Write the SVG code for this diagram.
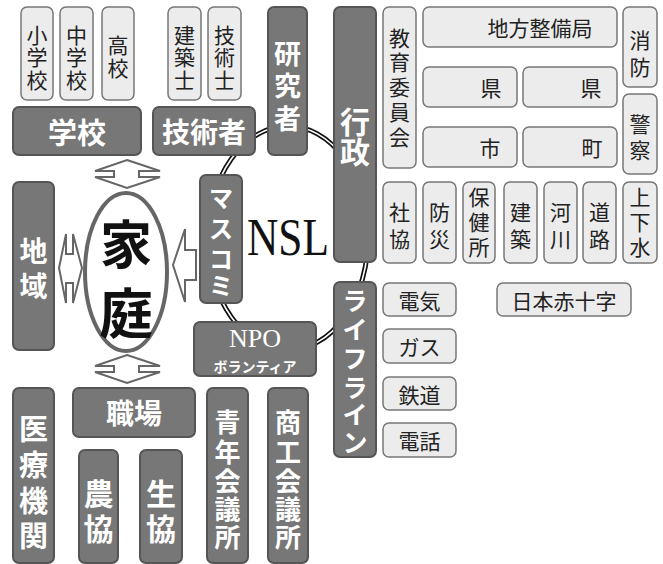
<svg xmlns="http://www.w3.org/2000/svg" width="663" height="564" viewBox="0 0 663 564">
<style>
.d{fill:#777;stroke:#555;stroke-width:2}
.l{fill:#ececec;stroke:#777;stroke-width:1.5}
.tw{fill:#fff;font-family:"Noto Sans CJK JP","Noto Sans",sans-serif;font-weight:bold;text-anchor:middle;dominant-baseline:central}
.tb{fill:#222;font-family:"Noto Sans CJK JP","Noto Sans",sans-serif;text-anchor:middle;dominant-baseline:central;font-size:21px}
.ar{fill:#fff;stroke:#666;stroke-width:2;stroke-linejoin:miter}
</style>
<rect width="663" height="564" fill="#fff"/>
<g id="connectors">
<ellipse cx="288" cy="238" rx="80" ry="112" fill="none" stroke="#111" stroke-width="5"/>
<ellipse cx="288" cy="238" rx="80" ry="112" fill="none" stroke="#fff" stroke-width="1.6"/>
<path class="ar" d="M127,160 L160,171 L139,171 L139,177 L160,177 L127,188 L95,177 L114,177 L114,171 L95,171 Z"/>
<path class="ar" d="M127,355 L160,366 L139,366 L139,372 L160,372 L127,383 L95,372 L114,372 L114,366 L95,366 Z"/>
<path class="ar" d="M59,268 L66,234 L66,254 L73,254 L73,234 L82,268 L73,303 L73,283 L66,283 L66,303 Z"/>
<path class="ar" d="M173,265 L185,229 L185,250 L196,250 L196,280 L185,280 L185,302 Z"/>
</g>
<g id="shogakko"><rect class="l" x="21" y="7" width="32" height="93" rx="6"/><text class="tb" x="37" y="34">小</text><text class="tb" x="37" y="56">学</text><text class="tb" x="37" y="79">校</text></g>
<g id="chugakko"><rect class="l" x="60" y="7" width="33" height="93" rx="6"/><text class="tb" x="76.5" y="34">中</text><text class="tb" x="76.5" y="56">学</text><text class="tb" x="76.5" y="79">校</text></g>
<g id="koko"><rect class="l" x="102" y="7" width="32" height="93" rx="6"/><text class="tb" x="118" y="44">高</text><text class="tb" x="118" y="67">校</text></g>
<g id="kenchikushi"><rect class="l" x="168" y="7" width="33" height="93" rx="6"/><text class="tb" x="184.5" y="34">建</text><text class="tb" x="184.5" y="56">築</text><text class="tb" x="184.5" y="79">士</text></g>
<g id="gijutsushi"><rect class="l" x="208" y="7" width="33" height="93" rx="6"/><text class="tb" x="224.5" y="34">技</text><text class="tb" x="224.5" y="56">術</text><text class="tb" x="224.5" y="79">士</text></g>
<g id="kenkyusha"><rect class="d" x="268" y="7" width="39" height="148" rx="6"/><text class="tw" x="287.5" y="52" font-size="27">研</text><text class="tw" x="287.5" y="84" font-size="27">究</text><text class="tw" x="287.5" y="117" font-size="27">者</text></g>
<g id="gakko"><rect class="d" x="13" y="107" width="128" height="48" rx="6"/><text class="tw" x="77" y="131" font-size="29">学校</text></g>
<g id="gijutsusha"><rect class="d" x="153" y="107" width="102" height="48" rx="6"/><text class="tw" x="204" y="131" font-size="28">技術者</text></g>
<g id="gyosei"><rect class="d" x="334" y="7" width="42" height="255" rx="6"/><text class="tw" x="355" y="120" font-size="30">行</text><text class="tw" x="355" y="150" font-size="30">政</text></g>
<g id="kyoiku"><rect class="l" x="383" y="7" width="33" height="161" rx="6"/><text class="tb" x="399.5" y="37">教</text><text class="tb" x="399.5" y="61">育</text><text class="tb" x="399.5" y="86">委</text><text class="tb" x="399.5" y="111">員</text><text class="tb" x="399.5" y="136">会</text></g>
<g id="chihoseibi"><rect class="l" x="423" y="7" width="194" height="40" rx="6"/><text class="tb" x="540" y="27" font-size="22">地方整備局</text></g>
<g id="ken1"><rect class="l" x="423" y="67" width="94" height="40" rx="6"/><text class="tb" x="491" y="87">県</text></g>
<g id="ken2"><rect class="l" x="523" y="67" width="94" height="40" rx="6"/><text class="tb" x="591" y="87">県</text></g>
<g id="shi"><rect class="l" x="423" y="127" width="94" height="40" rx="6"/><text class="tb" x="490" y="147">市</text></g>
<g id="machi"><rect class="l" x="523" y="127" width="94" height="40" rx="6"/><text class="tb" x="592" y="147">町</text></g>
<g id="shobo"><rect class="l" x="623" y="7" width="34" height="80" rx="6"/><text class="tb" x="640" y="39">消</text><text class="tb" x="640" y="66">防</text></g>
<g id="keisatsu"><rect class="l" x="623" y="94" width="34" height="80" rx="6"/><text class="tb" x="640" y="123">警</text><text class="tb" x="640" y="149">察</text></g>
<g id="shakyo"><rect class="l" x="383" y="182" width="33" height="81" rx="6"/><text class="tb" x="399.5" y="211">社</text><text class="tb" x="399.5" y="238">協</text></g>
<g id="bosai"><rect class="l" x="423" y="182" width="33" height="81" rx="6"/><text class="tb" x="439.5" y="211">防</text><text class="tb" x="439.5" y="238">災</text></g>
<g id="hokenjo"><rect class="l" x="463" y="182" width="32" height="81" rx="6"/><text class="tb" x="479" y="196">保</text><text class="tb" x="479" y="221">健</text><text class="tb" x="479" y="246">所</text></g>
<g id="kenchiku"><rect class="l" x="504" y="182" width="33" height="81" rx="6"/><text class="tb" x="520.5" y="211">建</text><text class="tb" x="520.5" y="238">築</text></g>
<g id="kasen"><rect class="l" x="544" y="182" width="33" height="81" rx="6"/><text class="tb" x="560.5" y="211">河</text><text class="tb" x="560.5" y="238">川</text></g>
<g id="doro"><rect class="l" x="583" y="182" width="33" height="81" rx="6"/><text class="tb" x="599.5" y="211">道</text><text class="tb" x="599.5" y="238">路</text></g>
<g id="jogesui"><rect class="l" x="623" y="182" width="34" height="81" rx="6"/><text class="tb" x="640" y="196">上</text><text class="tb" x="640" y="221">下</text><text class="tb" x="640" y="246">水</text></g>
<g id="lifeline"><rect class="d" x="334" y="282" width="42" height="175" rx="6"/><text class="tw" x="355" y="299" font-size="25">ラ</text><text class="tw" x="355" y="328" font-size="25">イ</text><text class="tw" x="355" y="357" font-size="25">フ</text><text class="tw" x="355" y="386" font-size="25">ラ</text><text class="tw" x="355" y="413" font-size="25">イ</text><text class="tw" x="355" y="441" font-size="25">ン</text></g>
<g id="denki"><rect class="l" x="383" y="283" width="73" height="33" rx="6"/><text class="tb" x="419.5" y="300">電気</text></g>
<g id="gas"><rect class="l" x="383" y="329" width="73" height="34" rx="6"/><text class="tb" x="419.5" y="346">ガス</text></g>
<g id="tetsudo"><rect class="l" x="383" y="377" width="73" height="33" rx="6"/><text class="tb" x="419.5" y="394">鉄道</text></g>
<g id="denwa"><rect class="l" x="383" y="423" width="73" height="34" rx="6"/><text class="tb" x="419.5" y="440">電話</text></g>
<g id="sekijuji"><rect class="l" x="497" y="283" width="134" height="33" rx="6"/><text class="tb" x="564" y="300">日本赤十字</text></g>
<g id="chiiki"><rect class="d" x="13" y="182" width="41" height="168" rx="6"/><text class="tw" x="33.5" y="250" font-size="28">地</text><text class="tw" x="33.5" y="285" font-size="28">域</text></g>
<g id="katei"><ellipse cx="126" cy="272" rx="41" ry="79" fill="#fff" stroke="#666" stroke-width="4"/><text x="126" y="241" font-size="52" font-weight="bold" fill="#111" text-anchor="middle" dominant-baseline="central" font-family="Noto Sans CJK JP, sans-serif">家</text><text x="126" y="310" font-size="54" font-weight="bold" fill="#111" text-anchor="middle" dominant-baseline="central" font-family="Noto Sans CJK JP, sans-serif">庭</text></g>
<g id="masukomi"><rect class="d" x="200" y="175" width="42" height="128" rx="6"/><text class="tw" x="221" y="196" font-size="24">マ</text><text class="tw" x="221" y="227" font-size="24">ス</text><text class="tw" x="221" y="257" font-size="24">コ</text><text class="tw" x="221" y="284" font-size="24">ミ</text></g>
<g id="nsl"><text x="247" y="255" font-family="Liberation Serif, serif" font-size="53" fill="#111" textLength="82" lengthAdjust="spacingAndGlyphs">NSL</text></g>
<g id="npo"><rect class="d" x="194" y="322" width="122" height="54" rx="6"/><text x="255" y="347" font-family="Liberation Serif, serif" font-size="26" fill="#fff" text-anchor="middle">NPO</text><text class="tw" x="255" y="366" font-size="14">ボランティア</text></g>
<g id="iryo"><rect class="d" x="13" y="388" width="41" height="175" rx="6"/><text class="tw" x="33.5" y="427" font-size="29">医</text><text class="tw" x="33.5" y="463" font-size="29">療</text><text class="tw" x="33.5" y="499" font-size="29">機</text><text class="tw" x="33.5" y="534" font-size="29">関</text></g>
<g id="shokuba"><rect class="d" x="73" y="388" width="122" height="49" rx="6"/><text class="tw" x="134" y="412" font-size="28">職場</text></g>
<g id="nokyo"><rect class="d" x="79" y="450" width="39" height="113" rx="6"/><text class="tw" x="98.5" y="492" font-size="30">農</text><text class="tw" x="98.5" y="527" font-size="30">協</text></g>
<g id="seikyo"><rect class="d" x="140" y="450" width="42" height="113" rx="6"/><text class="tw" x="161" y="492" font-size="30">生</text><text class="tw" x="161" y="527" font-size="30">協</text></g>
<g id="seinen"><rect class="d" x="207" y="388" width="41" height="175" rx="6"/><text class="tw" x="227.5" y="420" font-size="26">青</text><text class="tw" x="227.5" y="450" font-size="26">年</text><text class="tw" x="227.5" y="479" font-size="26">会</text><text class="tw" x="227.5" y="507" font-size="26">議</text><text class="tw" x="227.5" y="535" font-size="26">所</text></g>
<g id="shoko"><rect class="d" x="268" y="388" width="40" height="175" rx="6"/><text class="tw" x="288" y="420" font-size="26">商</text><text class="tw" x="288" y="450" font-size="26">工</text><text class="tw" x="288" y="479" font-size="26">会</text><text class="tw" x="288" y="507" font-size="26">議</text><text class="tw" x="288" y="535" font-size="26">所</text></g>
</svg>
